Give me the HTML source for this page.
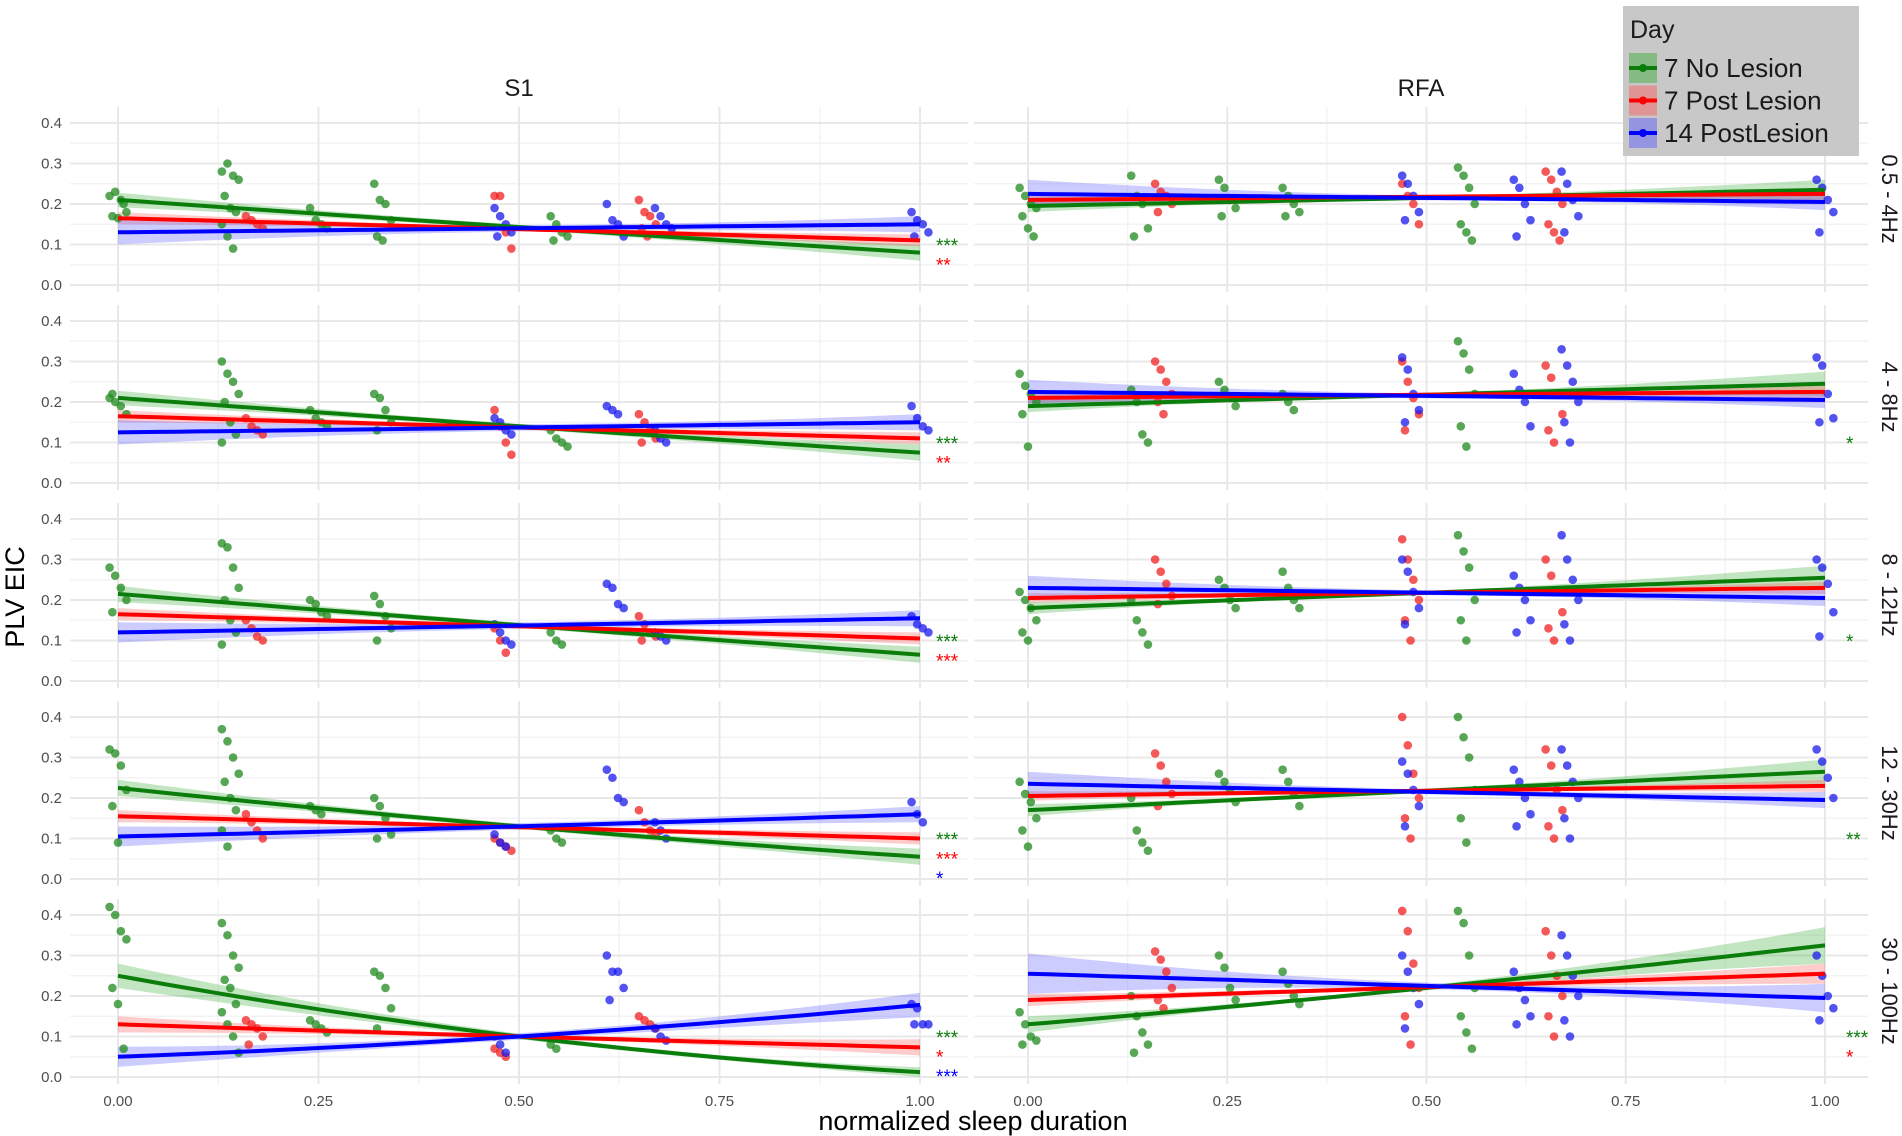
<!DOCTYPE html>
<html><head><meta charset="utf-8"><style>
body{margin:0;background:#fff;}
svg{display:block;font-family:"Liberation Sans",sans-serif;}
</style></head><body>
<svg id="chart" width="1902" height="1136" viewBox="0 0 1902 1136" xmlns="http://www.w3.org/2000/svg"></svg>
<script>
// ---- data ----
const columns = ["S1", "RFA"];
const bands = ["0.5 - 4Hz", "4 - 8Hz", "8 - 12Hz", "12 - 30Hz", "30 - 100Hz"];
const groups = ["7 No Lesion", "7 Post Lesion", "14 PostLesion"];
const xTicks = [0, 0.25, 0.5, 0.75, 1.0];
const xTickLabels = ["0.00", "0.25", "0.50", "0.75", "1.00"];
const yTicks = [0, 0.1, 0.2, 0.3, 0.4];
const yTickLabels = ["0.0", "0.1", "0.2", "0.3", "0.4"];
const clusterX = [[0, 0.14, 0.25, 0.33, 0.55], [0.17, 0.48, 0.66], [0.48, 0.62, 0.68, 1.0]];
// fit lines: values at x = 0, 0.5, 1  [row][group]
const fitS1 = [
 [[0.21,0.143,0.08],[0.165,0.138,0.11],[0.13,0.14,0.15]],
 [[0.21,0.14,0.075],[0.165,0.137,0.11],[0.125,0.137,0.15]],
 [[0.215,0.138,0.065],[0.165,0.135,0.105],[0.12,0.137,0.155]],
 [[0.225,0.13,0.055],[0.155,0.128,0.10],[0.105,0.13,0.16]],
 [[0.25,0.10,0.012],[0.13,0.10,0.073],[0.05,0.10,0.178]]
];
const fitRFA = [
 [[0.195,0.215,0.235],[0.21,0.218,0.225],[0.225,0.215,0.205]],
 [[0.19,0.218,0.245],[0.21,0.218,0.225],[0.225,0.215,0.205]],
 [[0.18,0.218,0.255],[0.205,0.218,0.23],[0.23,0.218,0.205]],
 [[0.17,0.218,0.265],[0.205,0.218,0.23],[0.235,0.215,0.195]],
 [[0.13,0.22,0.325],[0.19,0.222,0.255],[0.255,0.225,0.195]]
];
// CI half widths at x=0,0.5,1 [row][group]
const ciS1 = [
 [[0.018,0.006,0.02],[0.015,0.005,0.015],[0.03,0.008,0.02]],
 [[0.018,0.006,0.02],[0.015,0.005,0.015],[0.03,0.008,0.02]],
 [[0.02,0.006,0.02],[0.015,0.005,0.015],[0.025,0.008,0.02]],
 [[0.02,0.006,0.02],[0.015,0.005,0.015],[0.025,0.008,0.02]],
 [[0.03,0.007,0.012],[0.02,0.005,0.02],[0.025,0.008,0.03]]
];
const ciRFA = [
 [[0.015,0.004,0.025],[0.012,0.004,0.015],[0.035,0.006,0.02]],
 [[0.015,0.004,0.03],[0.012,0.004,0.015],[0.03,0.006,0.02]],
 [[0.015,0.004,0.03],[0.012,0.004,0.015],[0.03,0.006,0.02]],
 [[0.015,0.004,0.03],[0.012,0.004,0.015],[0.03,0.006,0.02]],
 [[0.02,0.006,0.045],[0.015,0.005,0.025],[0.05,0.008,0.035]]
];
// points: [row][group][cluster] -> y values
const ptsS1 = [
 [[[0.22,0.23,0.21,0.18,0.17,0.165,0.2],[0.28,0.3,0.27,0.26,0.22,0.19,0.18,0.15,0.12,0.09],[0.19,0.16,0.15,0.14],[0.25,0.21,0.2,0.16,0.12,0.11],[0.17,0.15,0.13,0.12,0.11]],
  [[0.17,0.16,0.15,0.14],[0.22,0.22,0.13,0.09],[0.21,0.18,0.17,0.15,0.14,0.12]],
  [[0.19,0.17,0.15,0.13,0.12],[0.2,0.16,0.15,0.12],[0.19,0.17,0.15,0.14],[0.18,0.16,0.15,0.13,0.12]]],
 [[[0.21,0.2,0.19,0.17,0.22],[0.3,0.27,0.25,0.22,0.2,0.15,0.12,0.1],[0.18,0.16,0.15,0.14],[0.22,0.21,0.18,0.15,0.13],[0.13,0.11,0.1,0.09]],
  [[0.16,0.14,0.13,0.12],[0.18,0.14,0.1,0.07],[0.17,0.15,0.13,0.11,0.1]],
  [[0.16,0.15,0.13,0.12],[0.19,0.18,0.17],[0.13,0.11,0.1],[0.19,0.16,0.14,0.13]]],
 [[[0.28,0.26,0.23,0.2,0.17],[0.34,0.33,0.28,0.23,0.2,0.15,0.12,0.09],[0.2,0.19,0.17,0.16],[0.21,0.19,0.16,0.13,0.1],[0.12,0.1,0.09]],
  [[0.15,0.13,0.11,0.1],[0.13,0.1,0.07],[0.16,0.14,0.12,0.11,0.1]],
  [[0.14,0.12,0.1,0.09],[0.24,0.23,0.19,0.18],[0.12,0.11,0.1],[0.16,0.14,0.13,0.12]]],
 [[[0.32,0.31,0.28,0.22,0.18,0.09],[0.37,0.34,0.3,0.26,0.24,0.2,0.17,0.12,0.08],[0.18,0.17,0.16],[0.2,0.18,0.15,0.11,0.1],[0.12,0.1,0.09]],
  [[0.16,0.14,0.12,0.1],[0.1,0.09,0.08,0.07],[0.17,0.14,0.12,0.11]],
  [[0.11,0.09,0.08],[0.27,0.25,0.2,0.19],[0.14,0.12,0.1],[0.19,0.16,0.14]]],
 [[[0.42,0.4,0.36,0.34,0.22,0.18,0.07],[0.38,0.35,0.3,0.27,0.24,0.22,0.18,0.16,0.13,0.1,0.06],[0.14,0.13,0.12,0.11],[0.26,0.25,0.22,0.17,0.12],[0.08,0.07]],
  [[0.14,0.13,0.12,0.1,0.08],[0.07,0.06,0.05],[0.15,0.14,0.13,0.12]],
  [[0.1,0.08,0.06],[0.3,0.26,0.26,0.22,0.19],[0.12,0.1,0.09],[0.18,0.17,0.13,0.13,0.13]]]
];
const ptsRFA = [
 [[[0.24,0.22,0.2,0.19,0.17,0.14,0.12],[0.27,0.22,0.2,0.14,0.12],[0.26,0.24,0.21,0.19,0.17],[0.24,0.22,0.2,0.18,0.17],[0.29,0.27,0.24,0.2,0.15,0.13,0.11]],
  [[0.25,0.23,0.22,0.2,0.18],[0.25,0.22,0.2,0.15],[0.28,0.26,0.23,0.2,0.15,0.13,0.11]],
  [[0.27,0.25,0.22,0.18,0.16],[0.26,0.24,0.2,0.16,0.12],[0.28,0.25,0.21,0.17,0.13],[0.26,0.24,0.21,0.18,0.13]]],
 [[[0.27,0.24,0.22,0.2,0.17,0.09],[0.23,0.2,0.12,0.1],[0.25,0.23,0.21,0.19],[0.22,0.2,0.18],[0.35,0.32,0.28,0.22,0.14,0.09]],
  [[0.3,0.28,0.25,0.22,0.2,0.17],[0.3,0.25,0.21,0.17,0.13],[0.29,0.26,0.22,0.17,0.13,0.1]],
  [[0.31,0.28,0.22,0.18,0.15],[0.27,0.23,0.2,0.14],[0.33,0.29,0.25,0.2,0.15,0.1],[0.31,0.29,0.22,0.16,0.15]]],
 [[[0.22,0.2,0.18,0.15,0.12,0.1],[0.2,0.15,0.12,0.09],[0.25,0.23,0.2,0.18],[0.27,0.23,0.2,0.18],[0.36,0.32,0.28,0.2,0.15,0.1]],
  [[0.3,0.27,0.24,0.21,0.19],[0.35,0.3,0.25,0.2,0.15,0.1],[0.3,0.26,0.22,0.17,0.13,0.1]],
  [[0.3,0.27,0.22,0.18,0.14],[0.26,0.23,0.2,0.15,0.12],[0.36,0.3,0.25,0.2,0.14,0.1],[0.3,0.28,0.24,0.17,0.11]]],
 [[[0.24,0.21,0.19,0.15,0.12,0.08],[0.2,0.12,0.09,0.07],[0.26,0.24,0.22,0.19],[0.27,0.24,0.21,0.18],[0.4,0.35,0.3,0.22,0.15,0.09]],
  [[0.31,0.28,0.24,0.21,0.18],[0.4,0.33,0.26,0.2,0.15,0.1],[0.32,0.28,0.22,0.17,0.13,0.1]],
  [[0.29,0.26,0.22,0.18,0.13],[0.27,0.24,0.2,0.16,0.13],[0.32,0.28,0.24,0.2,0.15,0.1],[0.32,0.29,0.25,0.2]]],
 [[[0.16,0.13,0.1,0.09,0.08],[0.2,0.15,0.11,0.08,0.06],[0.3,0.27,0.22,0.19],[0.26,0.23,0.2,0.18],[0.41,0.38,0.3,0.22,0.15,0.11,0.07]],
  [[0.31,0.29,0.26,0.22,0.19,0.17],[0.41,0.36,0.28,0.22,0.15,0.08],[0.36,0.3,0.25,0.2,0.15,0.1]],
  [[0.3,0.26,0.22,0.18,0.12],[0.26,0.22,0.19,0.15,0.13],[0.35,0.3,0.25,0.2,0.14,0.1],[0.3,0.25,0.2,0.17,0.14]]]
];
// significance stars [row] -> per group
const starsS1 = [["***","**",""],["***","**",""],["***","***",""],["***","***","*"],["***","*","***"]];
const starsRFA = [["","",""],["*","",""],["*","",""],["**","",""],["***","*",""]];

// ---- layout ----
const svg = document.getElementById('chart');
const NS = "http://www.w3.org/2000/svg";
const lineCol = ["#0b7d0b", "#ff0000", "#0000ff"];
const ptCol = ["#1f8a1f", "#f02020", "#1a1aee"];
const ribCol = ["#34a834", "#ff5555", "#5555ff"];
const panelsX = [{l:70, r:968, x0:118, x1:920}, {l:974, r:1868, x0:1028, x1:1825}];
function rowY0(r){ return 285 + 198*r; }
const yScalePer = 405;
function sx(c, v){ const p = panelsX[c]; return p.x0 + (p.x1 - p.x0)*v; }
function sy(r, v){ return rowY0(r) - v*yScalePer; }
function el(tag, attrs, parent){
  const e = document.createElementNS(NS, tag);
  for (const k in attrs) e.setAttribute(k, attrs[k]);
  (parent||svg).appendChild(e); return e;
}
function quadVal(v, t){
  const a=v[0], b=v[1], c=v[2];
  return a*(1-t)*(1-2*t) + 4*b*t*(1-t) + c*t*(2*t-1);
}

for (let c=0;c<2;c++){
  const fits = c===0?fitS1:fitRFA, cis = c===0?ciS1:ciRFA, pts = c===0?ptsS1:ptsRFA, stars = c===0?starsS1:starsRFA;
  const p = panelsX[c];
  for (let r=0;r<5;r++){
    const g = el('g', {});
    
    
    const top = rowY0(r) - 178, bot = rowY0(r) + 7;
    for (let i=0;i<4;i++){
      const v = 0.125 + 0.25*i;
      el('line', {x1:sx(c,v), x2:sx(c,v), y1:top, y2:bot, stroke:'#f3f3f3', 'stroke-width':1.5}, g);
    }
    for (let i=0;i<4;i++){
      const v = 0.05 + 0.1*i;
      el('line', {x1:p.l, x2:p.r, y1:sy(r,v), y2:sy(r,v), stroke:'#f3f3f3', 'stroke-width':1.5}, g);
    }
    xTicks.forEach(v=>el('line', {x1:sx(c,v), x2:sx(c,v), y1:top, y2:bot, stroke:'#e8e8e8', 'stroke-width':2}, g));
    yTicks.forEach(v=>el('line', {x1:p.l, x2:p.r, y1:sy(r,v), y2:sy(r,v), stroke:'#e8e8e8', 'stroke-width':2}, g));
    if (c===0){
      yTicks.forEach((v,i)=>{
        const t = el('text', {x:62, y:sy(r,v)+5, 'text-anchor':'end', 'font-size':15, fill:'#4d4d4d'}, g);
        t.textContent = yTickLabels[i];
        
        
      });
    }
    for (let k=0;k<3;k++){
      const up=[], lo=[];
      for (let s=0;s<=40;s++){
        const t=s/40, m=quadVal(fits[r][k],t), h=quadVal(cis[r][k],t);
        up.push(sx(c,t).toFixed(1)+','+sy(r,m+h).toFixed(1));
        lo.unshift(sx(c,t).toFixed(1)+','+sy(r,m-h).toFixed(1));
      }
      const rib = el('polygon', {points: up.concat(lo).join(' '), fill:ribCol[k], 'fill-opacity':0.3}, g);
      
      
    }
    for (let k=0;k<3;k++){
      pts[r][k].forEach((ys, ci)=>{
        ys.forEach((v, j)=>{
          const jit = ((j*37)%7 - 3) * 0.0035;
          const cc = el('circle', {cx:sx(c, clusterX[k][ci]+jit), cy:sy(r,v), r:4.3, fill:ptCol[k], 'fill-opacity':0.75}, g);
          
          
        });
      });
    }
    for (let k=0;k<3;k++){
      const ln=[];
      for (let s=0;s<=40;s++){
        const t=s/40; ln.push(sx(c,t).toFixed(1)+','+sy(r,quadVal(fits[r][k],t)).toFixed(1));
      }
      const pl = el('polyline', {points: ln.join(' '), fill:'none', stroke:lineCol[k], 'stroke-width':4}, g);
      
      
    }
    let n=0;
    for (let k=0;k<3;k++){
      if (stars[r][k]){
        const t = el('text', {x:(c===0?936:1846), y:rowY0(r)-33+19.5*n, 'font-size':19, fill:lineCol[k], 'text-anchor':'start'}, g);
        t.textContent = stars[r][k];
        
        
      }
      n++;
    }
    if (c===1){
      const t = el('text', {x:0, y:0, 'font-size':22, fill:'#1a1a1a', 'text-anchor':'middle', transform:'translate(1882,'+(rowY0(r)-86)+') rotate(90)'}, g);
      t.textContent = bands[r];
      
      
    }
  }
  xTicks.forEach((v,i)=>{
    const t = el('text', {x:sx(c,v), y:1106, 'text-anchor':'middle', 'font-size':15, fill:'#4d4d4d'});
    t.textContent = xTickLabels[i];
    
    
  });
  const ct = el('text', {x:(p.l+p.r)/2, y:96, 'text-anchor':'middle', 'font-size':24, fill:'#1a1a1a'});
  ct.textContent = columns[c];
  
  
}
const xt = el('text', {x:973, y:1130, 'text-anchor':'middle', 'font-size':27, fill:'#000'});
xt.textContent = 'normalized sleep duration';


const yt = el('text', {x:0, y:0, 'text-anchor':'middle', 'font-size':27, fill:'#000', transform:'translate(24,597) rotate(-90)'});
yt.textContent = 'PLV EIC';



const lg = el('g', {});


el('rect', {x:1623, y:6, width:236, height:150, fill:'#c8c8c8'}, lg);
const lt = el('text', {x:1630, y:38, 'font-size':25, fill:'#1a1a1a'}, lg);
lt.textContent = 'Day';
groups.forEach((gname,k)=>{
  const cy = 68 + 32.5*k;
  const e = el('g', {}, lg);
  
  
  el('rect', {x:1629, y:cy-15, width:28, height:30, fill:ribCol[k], 'fill-opacity':0.45}, e);
  el('line', {x1:1629, x2:1657, y1:cy, y2:cy, stroke:lineCol[k], 'stroke-width':4}, e);
  el('circle', {cx:1643, cy:cy, r:4, fill:lineCol[k]}, e);
  const t = el('text', {x:1664, y:cy+9, 'font-size':26, fill:'#1a1a1a'}, e);
  t.textContent = gname;
});
</script>
</body></html>
